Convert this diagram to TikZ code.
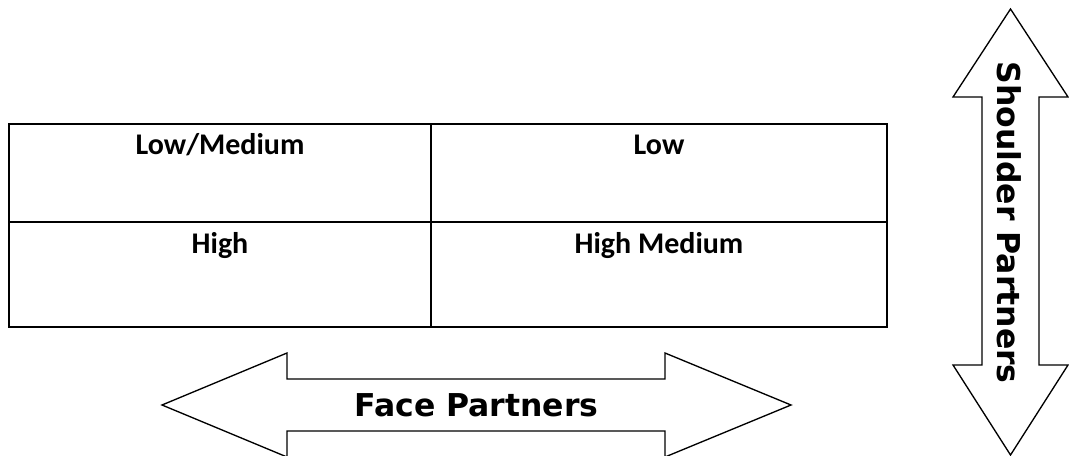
\documentclass[tikz,border=0pt]{standalone}
\usepackage{fontspec}
\setmainfont{Carlito}
\newfontfamily\axisfont{DejaVu Sans}

\begin{document}
\begin{tikzpicture}[
    x=0.75pt, y=-0.75pt,
    every node/.style={inner sep=0pt},
    cell/.style={anchor=base, font=\bfseries\fontsize{22.5}{27}\selectfont},
    axis/.style={font=\axisfont\bfseries\fontsize{23.6}{28}\selectfont},
    arrowshape/.style={draw, line width=1pt, line join=miter},
]
    \useasboundingbox (0,0) rectangle (1069,456);

    % table grid
    \draw[line width=1.7pt] (9,124) rectangle (887,327)
        (431,124) -- (431,327) (9,222) -- (887,222);
    \foreach \name/\x/\y/\txt in {lowmed/220/154.5/Low\slash Medium, low/659/154.5/Low,
                                  high/220/253/High, highmed/659/253/High Medium} {
        \node[cell] (\name) at (\x,\y) {\txt};
    }

    % face partners arrow
    \draw[arrowshape] (162,405) -- (287,353) -- (287,379) -- (665,379) -- (665,353)
        -- (791,405) -- (665,457) -- (665,431) -- (287,431) -- (287,457) -- cycle;
    \node[axis] (face) at (476.5,405) {Face Partners};

    % shoulder partners arrow
    \draw[arrowshape] (1010.5,9) -- (1068,97) -- (1039,97) -- (1039,365) -- (1068,365)
        -- (1010.5,455) -- (953,365) -- (982,365) -- (982,97) -- (953,97) -- cycle;
    \node[axis, rotate=-90] (shoulder) at (1009.5,222.5) {Shoulder Partners};
\end{tikzpicture}
\end{document}
